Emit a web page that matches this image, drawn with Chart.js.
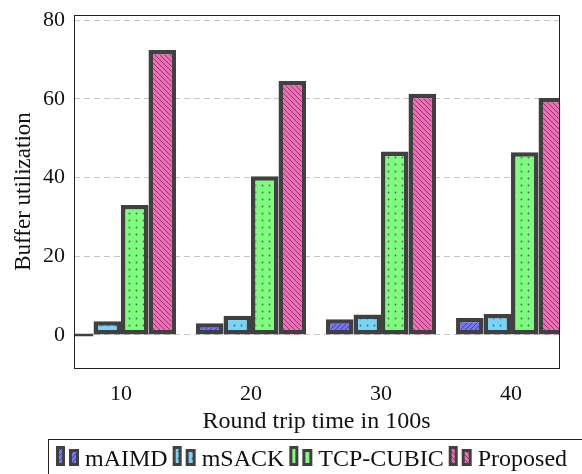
<!DOCTYPE html>
<html>
<head>
<meta charset="utf-8">
<script src="https://cdn.jsdelivr.net/npm/chart.js@4"></script>
<style>
  html, body { margin: 0; padding: 0; background: #fff; }
  .chart-box { width: 582px; height: 474px; position: relative; }
</style>
</head>
<body>
<div class="chart-box"><canvas id="buffer-chart"></canvas></div>
<script>
// --- Data ---
const rttValues = [10, 20, 30, 40];
const seriesNames = ['mAIMD', 'mSACK', 'TCP-CUBIC', 'Proposed'];
const mAIMD = [0, 3.0, 4.0, 4.3];
const mSACK = [3.5, 4.9, 5.2, 5.3];
const tcpCubic = [33.0, 40.3, 46.6, 46.4];
const proposed = [72.4, 64.5, 61.3, 60.2];
const yTickValues = [0, 20, 40, 60, 80];

const edgeColor = '#404040';

// Small tiles that mimic the pgfplots fill patterns
function makeTile(size, bg, drawFn) {
    const tile = document.createElement('canvas');
    tile.width = size;
    tile.height = size;
    const t = tile.getContext('2d');
    t.fillStyle = bg;
    t.fillRect(0, 0, size, size);
    drawFn(t, size);
    return tile;
}

function lines(dir) {
    return (t, s) => {
        t.strokeStyle = 'rgba(30, 30, 50, 0.55)';
        t.lineWidth = 1;
        t.beginPath();
        for (let k = -1; k <= 1; k++) {
            if (dir === 'ne') {
                t.moveTo(k * s, s);
                t.lineTo(k * s + s, 0);
            } else {
                t.moveTo(k * s, 0);
                t.lineTo(k * s + s, s);
            }
        }
        t.stroke();
    };
}

function dots(t, s) {
    t.fillStyle = 'rgba(70, 70, 70, 0.8)';
    t.beginPath();
    t.arc(s / 2, s / 2, 0.9, 0, Math.PI * 2);
    t.fill();
}

const ctx = document.getElementById('buffer-chart').getContext('2d');
const tiles = [
    makeTile(5, '#7474fc', lines('ne')),
    makeTile(7, '#78d4f6', dots),
    makeTile(7, '#7ffb7f', dots),
    makeTile(5, '#f26cb6', lines('nw'))
];
const fills = tiles.map(tile => ctx.createPattern(tile, 'repeat'));

function toPoints(vals) {
    return rttValues.map((x, i) => ({ x: x, y: vals[i] }));
}

// Two tiny bars, like the ybar legend images of pgfplots
function drawLegendIcon(c, x, y, fill) {
    const bars = [[x, y, 9, 20], [x + 13, y + 3, 10, 17]];
    bars.forEach(([bx, by, bw, bh]) => {
        c.fillStyle = edgeColor;
        c.fillRect(bx, by, bw, bh);
        c.fillStyle = fill;
        c.fillRect(bx + 3, by + 3, bw - 6, bh - 6);
    });
}

const frameAndLegend = {
    id: 'frameAndLegend',
    afterDatasetsDraw(chart) {
        const c = chart.ctx;
        const a = chart.chartArea;
        c.save();
        c.strokeStyle = '#222';
        c.lineWidth = 1;
        c.strokeRect(a.left + 0.5, a.top + 0.5, a.right - a.left, a.bottom - a.top);
        c.restore();
    },
    afterDraw(chart) {
        const c = chart.ctx;
        c.save();
        c.strokeStyle = '#222';
        c.lineWidth = 1;
        c.strokeRect(48.5, 439.5, 600, 60);
        c.font = '24px "Liberation Serif", serif';
        c.textBaseline = 'alphabetic';
        let x = 56;
        seriesNames.forEach((name, i) => {
            drawLegendIcon(c, x, 446, fills[i]);
            c.fillStyle = '#111';
            c.fillText(name, x + 29, 466);
            x += 29 + c.measureText(name).width + 5;
        });
        c.restore();
    }
};

Chart.defaults.font.family = '"Liberation Serif", serif';
Chart.defaults.color = '#111';

const seriesValues = [mAIMD, mSACK, tcpCubic, proposed];

new Chart(ctx, {
    type: 'bar',
    data: {
        datasets: seriesNames.map((name, i) => ({
            label: name,
            data: toPoints(seriesValues[i]),
            backgroundColor: fills[i],
            borderColor: edgeColor,
            borderWidth: 4.5,
            borderSkipped: false,
            minBarLength: 3,
            clip: 0
        }))
    },
    options: {
        responsive: true,
        maintainAspectRatio: false,
        animation: false,
        datasets: {
            bar: { barPercentage: 1, categoryPercentage: 0.846 }
        },
        layout: { padding: { top: 15, right: 23, bottom: 38, left: 0 } },
        plugins: {
            legend: { display: false },
            tooltip: { enabled: false }
        },
        scales: {
            x: {
                type: 'linear',
                min: 6.385,
                max: 43.69,
                offset: false,
                grid: { display: false, drawTicks: false },
                border: { display: false },
                ticks: { padding: 13, font: { size: 22 } },
                afterBuildTicks: scale => { scale.ticks = rttValues.map(v => ({ value: v })); },
                afterFit: scale => {
                    scale.height = 68;
                    scale.paddingLeft = 0;
                    scale.paddingRight = 0;
                },
                title: {
                    display: true,
                    text: 'Round trip time in 100s',
                    font: { size: 24 },
                    padding: { top: 0, bottom: 0 }
                }
            },
            y: {
                min: -8.4,
                max: 81.3,
                grid: { color: '#c4c4c4', lineWidth: 1, drawTicks: false },
                border: { display: false, dash: [6, 4] },
                ticks: { padding: 9, font: { size: 22 } },
                afterBuildTicks: scale => { scale.ticks = yTickValues.map(v => ({ value: v })); },
                afterFit: scale => {
                    scale.width = 74;
                    scale.paddingTop = 0;
                    scale.paddingBottom = 0;
                },
                title: {
                    display: true,
                    text: 'Buffer utilization',
                    font: { size: 23 },
                    padding: { top: 10, bottom: 0 }
                }
            }
        }
    },
    plugins: [frameAndLegend]
});
</script>
</body>
</html>
